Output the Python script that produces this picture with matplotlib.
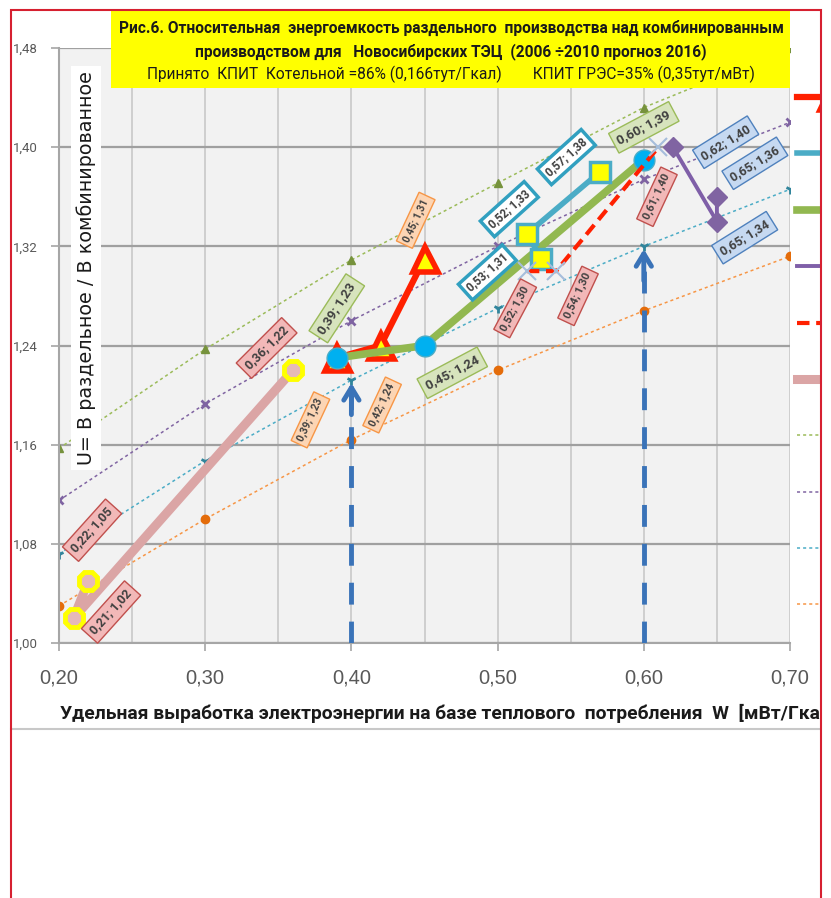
import matplotlib
matplotlib.use("Agg")
import matplotlib.pyplot as plt
from matplotlib.lines import Line2D
from matplotlib.patches import Rectangle
import numpy as np

# данные
trend_x = [0.20, 0.30, 0.40, 0.50, 0.60, 0.70]
trend_green = [1.157, 1.237, 1.309, 1.371, 1.432, 1.48]
trend_purple = [1.115, 1.193, 1.26, 1.32, 1.374, 1.42]
trend_teal = [1.072, 1.147, 1.212, 1.27, 1.32, 1.366]
trend_orange = [1.03, 1.10, 1.164, 1.22, 1.268, 1.312]

red_x = [0.39, 0.42, 0.45]
red_y = [1.23, 1.24, 1.31]
cyan_x = [0.53, 0.52, 0.57]
cyan_y = [1.31, 1.33, 1.38]
green_x = [0.39, 0.45, 0.60]
green_y = [1.23, 1.24, 1.39]
purple_x = [0.62, 0.65, 0.65]
purple_y = [1.40, 1.34, 1.36]
dash_x = [0.52, 0.54, 0.61]
dash_y = [1.30, 1.30, 1.40]
pink_x = [0.22, 0.21, 0.36]
pink_y = [1.05, 1.02, 1.22]

arrow_x = [0.40, 0.60]

yticks = [1.00, 1.08, 1.16, 1.24, 1.32, 1.40, 1.48]
xticks = [0.20, 0.30, 0.40, 0.50, 0.60, 0.70]

title1 = "Рис.6. Относительная  энергоемкость раздельного  производства над комбинированным"
title2 = "производством для   Новосибирских ТЭЦ  (2006 ÷2010 прогноз 2016)"
title3 = "Принято  КПИТ  Котельной =86% (0,166тут/Гкал)        КПИТ ГРЭС=35% (0,35тут/мВт)"
ylab = "U= В раздельное / В комбинированное"
xlab = "Удельная выработка электроэнергии на базе теплового  потребления  W  [мВт/Гка"

NARROW = ['Roboto', 'DejaVu Sans']

W, H = 831, 898
def fx(p):
    return p / W
def fy(p):
    return 1 - p / H

fig = plt.figure(figsize=(8.31, 8.98), dpi=100)
ax = fig.add_axes([fx(59), fy(643), fx(790) - fx(59), (643 - 48) / H])
ax.set_facecolor('#f2f2f2')
ax.set_xlim(0.2, 0.7)
ax.set_ylim(1.0, 1.48)

ax.set_yticks(yticks)
ax.set_yticklabels([f"{v:.2f}".replace('.', ',') for v in yticks],
                   family=NARROW, fontsize=9.5, color='#595959')
ax.set_xticks(xticks)
ax.set_xticklabels([f"{v:.2f}".replace('.', ',') for v in xticks],
                   family='Liberation Sans', fontsize=14.5, color='#595959')
ax.set_xticks(np.arange(0.25, 0.7, 0.1), minor=True)
ax.tick_params(axis='both', which='major', length=6, color='#a6a6a6', width=1.2)
ax.tick_params(axis='y', pad=9)
ax.tick_params(axis='x', pad=12)
ax.tick_params(which='minor', length=0)
ax.grid(axis='y', which='major', color='#a0a0a0', lw=1.6)
ax.grid(axis='x', which='both', color='#c8c8c8', lw=1.2)
ax.set_axisbelow(True)
for s in ['top', 'right']:
    ax.spines[s].set_visible(False)
for s in ['left', 'bottom']:
    ax.spines[s].set_color('#a6a6a6')
    ax.spines[s].set_linewidth(1.5)

# пунктирные линии тренда
t1, = ax.plot(trend_x, trend_green, ls=(0, (2, 2)), lw=1.1, color='#9bbb59',
              marker='^', ms=6, mfc='#76923c', mec='#76923c', zorder=2)
t2, = ax.plot(trend_x, trend_purple, ls=(0, (2, 2)), lw=1.1, color='#8064a2',
              marker='x', ms=6, mew=2, mec='#7f64a2', zorder=2)
t3, = ax.plot(trend_x, trend_teal, ls=(0, (2, 2)), lw=1.1, color='#4bacc6',
              marker='1', ms=7, mew=2, mec='#31859c', zorder=2)
t4, = ax.plot(trend_x, trend_orange, ls=(0, (2, 2)), lw=1.1, color='#f79646',
              marker='o', ms=6, mfc='#e46c0a', mec='#e46c0a', zorder=2)

# синие стрелки
for ax_x in arrow_x:
    tip = trend_teal[trend_x.index(ax_x)]
    ax.plot([ax_x, ax_x], [1.0, tip - 0.012], color='#3a73b8', lw=3.5,
            ls=(0, (4.5, 3.5)), solid_capstyle='butt', dash_capstyle='butt', zorder=3)
    ax.annotate('', xy=(ax_x, tip), xytext=(ax_x, tip - 0.03),
                arrowprops=dict(arrowstyle='->,head_length=0.9,head_width=0.55',
                                color='#3a73b8', lw=3.5), zorder=3)

s6, = ax.plot(pink_x, pink_y, color='#dba5a5', lw=6.5, marker='8', ms=14,
              mfc='#e6b9b8', mec='#ffff00', mew=3.5, zorder=4)
s1, = ax.plot(red_x, red_y, color='#ff2000', lw=4.5, marker='^', ms=18,
              mfc='#ffff00', mec='#ff2000', mew=4, zorder=4)
s3, = ax.plot(green_x, green_y, color='#92b850', lw=5.5, marker='o', ms=15,
              mfc='#00b0f0', mec='#4bacc6', mew=1, zorder=5)
s2, = ax.plot(cyan_x, cyan_y, color='#4bacc6', lw=4, marker='s', ms=15,
              mfc='#ffff00', mec='#4bacc6', mew=2.5, zorder=5)
s5, = ax.plot(dash_x, dash_y, color='#ff2000', lw=3, ls=(0, (3, 1.6)),
              marker='x', ms=13, mec='#a6bddb', mew=1.5, zorder=5)
s4, = ax.plot(purple_x, purple_y, color='#7f5fa8', lw=2.8, marker='D', ms=10,
              mfc='#8064a2', mec='#8064a2', zorder=5)


def tags(xs, ys, pos, angs, fc, ec, fs, lw=1.0):
    for x, y, (px, py), a in zip(xs, ys, pos, angs):
        s = f"{x:.2f}; {y:.2f}".replace('.', ',')
        ax.text(px, py, s, rotation=a, rotation_mode='anchor', ha='center',
                va='center', fontsize=fs, color='#404040', family=NARROW,
                fontweight='bold', zorder=7,
                bbox=dict(boxstyle='square,pad=0.35', fc=fc, ec=ec, lw=lw))


tags(red_x, red_y, [(0.372, 1.18), (0.421, 1.192), (0.444, 1.341)], [65, 65, 65],
     '#fcd5b4', '#f79646', 7.5)
tags(green_x, green_y, [(0.39, 1.27), (0.469, 1.218), (0.60, 1.416)], [57, 28, 28],
     '#d7e4bd', '#9bbb59', 9.5)
tags(cyan_x, cyan_y, [(0.493, 1.299), (0.508, 1.35), (0.547, 1.392)], [42, 42, 42],
     '#ffffff', '#31a0c0', 8.3, lw=2.5)
tags(purple_x, purple_y, [(0.656, 1.404), (0.669, 1.327), (0.676, 1.387)], [32, 32, 32],
     '#c6d9f1', '#4f81bd', 9)
tags(dash_x, dash_y, [(0.512, 1.27), (0.555, 1.28), (0.609, 1.36)], [62, 65, 65],
     '#f2b8b8', '#c0504d', 8)
tags(pink_x, pink_y, [(0.2226, 1.091), (0.2356, 1.025), (0.342, 1.238)], [48, 48, 45],
     '#f2b8b8', '#c0504d', 9)

# заголовок в жёлтой рамке
fig.patches.append(Rectangle((fx(111), fy(88)), fx(790) - fx(111), (88 - 10) / H,
                             transform=fig.transFigure, fc='#ffff00', ec='none', zorder=8))
cx = fx(451)
fig.text(cx, fy(28), title1, ha='center', va='center', family=NARROW,
         fontweight='bold', fontsize=11.2, color='#1a1a1a', zorder=9)
fig.text(cx, fy(52), title2, ha='center', va='center', family=NARROW,
         fontweight='bold', fontsize=11.2, color='#1a1a1a', zorder=9)
fig.text(cx, fy(74), title3, ha='center', va='center', family=NARROW,
         fontsize=11.2, color='#1a1a1a', zorder=9)

fig.text(fx(86), fy(268), ylab, rotation=90, ha='center', va='center',
         fontsize=13.8, color='#1a1a1a', zorder=9,
         bbox=dict(boxstyle='square,pad=0.25', fc='white', ec='none'))
fig.text(fx(60), fy(713), xlab, ha='left', va='center', family=NARROW,
         fontweight='bold', fontsize=13.9, color='#1a1a1a')

# легенда (видны только образцы линий)
fig.legend([s1, s2, s3, s4, s5, s6, t1, t2, t3, t4], [''] * 10,
           loc='upper left', bbox_to_anchor=(fx(797), fy(91)),
           bbox_transform=fig.transFigure, frameon=False, handlelength=5,
           fontsize=10, labelspacing=3.05, borderpad=0, borderaxespad=0,
           numpoints=1)

# рамка
fig.patches.append(Rectangle((fx(821.5), 0), 1 - fx(821.5), 1,
                             transform=fig.transFigure, fc='white', ec='none', zorder=20))
fig.lines.append(Line2D([fx(11), fx(821)], [fy(729), fy(729)], transform=fig.transFigure,
                        color='#c8c8c8', lw=1.5))
fig.patches.append(Rectangle((fx(11), fy(910)), fx(821) - fx(11), (910 - 10) / H,
                             transform=fig.transFigure, fc='none', ec='#d62030', lw=1.5, zorder=21))

fig.savefig('out.png', dpi=100)
